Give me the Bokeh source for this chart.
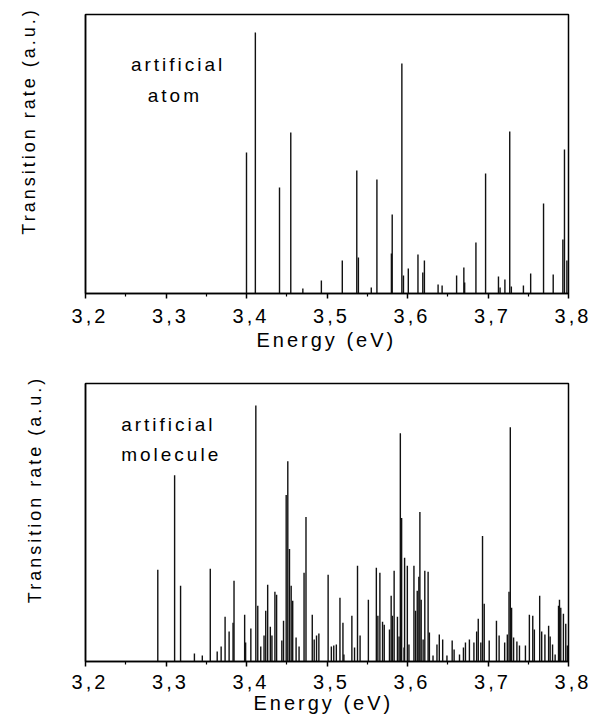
from bokeh.plotting import figure
from bokeh.layouts import column
from bokeh.models import (Range1d, FixedTicker, Label, Title,
                          InlineStyleSheet, CustomJSTickFormatter)
from bokeh.embed import file_html
from bokeh.resources import INLINE

# ---------------- data ----------------
X_TICKS = [3.2, 3.3, 3.4, 3.5, 3.6, 3.7, 3.8]
X_MINOR = [3.25, 3.35, 3.45, 3.55, 3.65, 3.75]

atom_energy = [3.400, 3.411, 3.441, 3.455, 3.470, 3.493, 3.519, 3.537, 3.539, 3.555,
               3.562, 3.580, 3.581, 3.593, 3.595, 3.601, 3.613, 3.619, 3.621, 3.638,
               3.643, 3.661, 3.670, 3.671, 3.685, 3.697, 3.713, 3.715, 3.721, 3.727,
               3.729, 3.744, 3.753, 3.769, 3.781, 3.793, 3.795, 3.798]
atom_rate = [141, 261, 106, 161, 5, 13, 33, 123, 36, 6,
             114, 40, 79, 230, 18, 25, 39, 21, 33, 9,
             8, 18, 26, 11, 51, 120, 17, 6, 14, 162,
             7, 8, 20, 90, 19, 54, 144, 33]

mol_energy = [3.2898, 3.3107, 3.3181, 3.3353, 3.3451, 3.3550, 3.3636, 3.3685, 3.3734, 3.3784,
              3.3833, 3.3845, 3.3977, 3.3989, 3.4054, 3.4116, 3.4140, 3.4177, 3.4218, 3.4239,
              3.4263, 3.4296, 3.4316, 3.4353, 3.4374, 3.4439, 3.4460, 3.4493, 3.4513, 3.4534,
              3.4555, 3.4574, 3.4616, 3.4653, 3.4715, 3.4739, 3.4817, 3.4841, 3.4870, 3.4899,
              3.5014, 3.5054, 3.5084, 3.5116, 3.5161, 3.5198, 3.5210, 3.5309, 3.5342, 3.5379,
              3.5411, 3.5514, 3.5613, 3.5632, 3.5657, 3.5690, 3.5711, 3.5776, 3.5797, 3.5813,
              3.5834, 3.5875, 3.5895, 3.5911, 3.5927, 3.5957, 3.5964, 3.5998, 3.6018, 3.6080,
              3.6100, 3.6121, 3.6141, 3.6154, 3.6170, 3.6194, 3.6215, 3.6256, 3.6272, 3.6317,
              3.6366, 3.6395, 3.6437, 3.6490, 3.6555, 3.6579, 3.6646, 3.6695, 3.6720, 3.6769,
              3.6825, 3.6859, 3.6879, 3.6911, 3.6932, 3.6953, 3.7015, 3.7105, 3.7138, 3.7207,
              3.7240, 3.7261, 3.7277, 3.7293, 3.7318, 3.7359, 3.7391, 3.7465, 3.7514, 3.7556,
              3.7576, 3.7642, 3.7667, 3.7707, 3.7753, 3.7772, 3.7802, 3.7834, 3.7876, 3.7888,
              3.7904, 3.7937, 3.7966, 3.7986]
mol_rate = [92, 187, 76, 8, 6, 93, 10, 15, 45, 30,
            39, 81, 47, 19, 33, 257, 56, 15, 26, 51,
            77, 35, 26, 70, 67, 21, 41, 167, 201, 113,
            76, 61, 24, 15, 89, 145, 47, 22, 26, 28,
            87, 15, 16, 17, 64, 39, 7, 46, 14, 96,
            26, 62, 94, 46, 89, 40, 37, 32, 66, 46,
            91, 45, 25, 229, 144, 14, 104, 96, 17, 96,
            51, 71, 85, 150, 62, 22, 91, 90, 29, 6,
            17, 27, 22, 6, 21, 12, 7, 14, 19, 22,
            19, 30, 43, 19, 126, 58, 21, 41, 26, 19,
            27, 70, 235, 54, 24, 20, 16, 16, 47, 46,
            32, 66, 30, 27, 36, 25, 17, 7, 56, 62,
            54, 48, 38, 16]

X_LABEL = "Energy (eV)"
Y_LABEL = "Transition rate (a.u.)"

FONT = "Liberation Sans"
LS = 3  # letter spacing (px) of the widely spaced lettering
Y_MAX = 279
spacing = InlineStyleSheet(css=":host { letter-spacing: %dpx; }" % LS)


def make_panel(energy, rate, width, height, bl, br, bt, bb,
               tick_standoff, xtitle_offset, xtitle_standoff, ylabel_standoff):
    p = figure(width=width, height=height, output_backend="svg", toolbar_location=None,
               x_range=Range1d(3.2, 3.8), y_range=Range1d(0, Y_MAX),
               min_border_left=bl, min_border_right=br,
               min_border_top=bt, min_border_bottom=bb)
    p.stylesheets = [spacing]
    p.grid.visible = False
    p.outline_line_color = "black"
    p.outline_line_width = 1.5

    p.segment(x0=energy, y0=0, x1=energy, y1=rate, line_color="#111111", line_width=1.4)

    xa = p.xaxis[0]
    xa.ticker = FixedTicker(ticks=X_TICKS, minor_ticks=X_MINOR)
    xa.formatter = CustomJSTickFormatter(code="return tick.toFixed(1).replace('.', ',');")
    xa.major_tick_in = 0
    xa.major_tick_out = 5
    xa.minor_tick_in = 0
    xa.minor_tick_out = 3
    xa.axis_line_width = 1.5
    xa.major_tick_line_width = 1.5
    xa.minor_tick_line_width = 1.2
    xa.major_label_text_font = FONT
    xa.major_label_text_font_size = "20px"
    xa.major_label_text_color = "black"
    xa.major_label_standoff = tick_standoff

    p.add_layout(Title(text=X_LABEL, align="left", vertical_align="top",
                       offset=xtitle_offset, standoff=xtitle_standoff,
                       text_font=FONT, text_font_size="20px", text_font_style="normal",
                       text_color="black"), "below")

    ya = p.yaxis[0]
    ya.ticker = FixedTicker(ticks=[])
    ya.formatter = CustomJSTickFormatter(code="return '';")
    ya.major_tick_in = 0
    ya.major_tick_out = 0
    ya.minor_tick_in = 0
    ya.minor_tick_out = 0
    ya.major_label_standoff = 0
    ya.axis_line_width = 1.5
    ya.axis_label = Y_LABEL
    ya.axis_label_text_font = FONT
    ya.axis_label_text_font_size = "18px"
    ya.axis_label_text_font_style = "normal"
    ya.axis_label_text_color = "black"
    ya.axis_label_standoff = ylabel_standoff
    return p


p1 = make_panel(atom_energy, atom_rate, 592, 368, 79, 24, 14, 75, 10, 171, 6, 47)
p1.add_layout(Label(x=3.2564, y=219, text="artificial", text_align="left",
                    text_font=FONT, text_font_size="19px", text_color="black"))
p1.add_layout(Label(x=3.2773, y=188, text="atom", text_align="left",
                    text_font=FONT, text_font_size="19px", text_color="black"))

p2 = make_panel(mol_energy, mol_rate, 592, 351, 85, 19, 15, 58, 8, 168, 0, 41)
p2.add_layout(Label(x=3.2443, y=227, text="artificial", text_align="left",
                    text_font=FONT, text_font_size="19px", text_color="black"))
p2.add_layout(Label(x=3.2443, y=197, text="molecule", text_align="left",
                    text_font=FONT, text_font_size="19px", text_color="black"))

layout = column(p1, p2, spacing=0)
open("out.html", "w").write(file_html(layout, INLINE))
